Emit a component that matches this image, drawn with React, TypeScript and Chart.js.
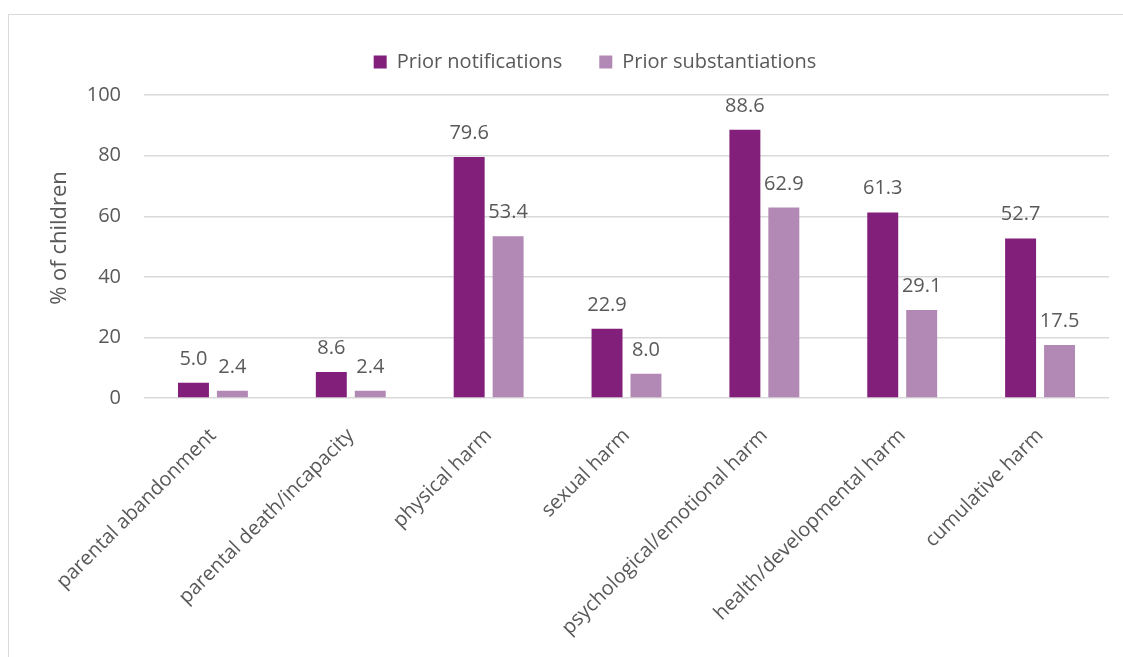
import React, { useEffect, useRef } from 'react';
import { Chart, registerables } from 'chart.js';

Chart.register(...registerables);

const categories = [
  'parental abandonment',
  'parental death/incapacity',
  'physical harm',
  'sexual harm',
  'psychological/emotional harm',
  'health/developmental harm',
  'cumulative harm',
];
const seriesLabels = ['Prior notifications', 'Prior substantiations'];
const priorNotifications = [5.0, 8.6, 79.6, 22.9, 88.6, 61.3, 52.7];
const priorSubstantiations = [2.4, 2.4, 53.4, 8.0, 62.9, 29.1, 17.5];
const yMin = 0;
const yMax = 100;
const yStep = 20;
const yTitle = '   % of children';

const FONT = "'Open Sans', sans-serif";
const TEXT = '#595959';
const GRID = '#d9d9d9';

const dataLabels = {
  id: 'dataLabels',
  afterDatasetsDraw(chart: any) {
    const ctx = chart.ctx;
    ctx.save();
    ctx.font = `20px ${FONT}`;
    ctx.fillStyle = TEXT;
    ctx.textAlign = 'center';
    ctx.textBaseline = 'alphabetic';
    chart.data.datasets.forEach((ds: any, i: number) => {
      const meta = chart.getDatasetMeta(i);
      meta.data.forEach((el: any, j: number) => {
        ctx.fillText(Number(ds.data[j]).toFixed(1), el.x, el.y - 18);
      });
    });
    ctx.restore();
  },
};

export default function App() {
  const ref = useRef<HTMLCanvasElement>(null);
  useEffect(() => {
    if (!ref.current) return;
    const chart = new Chart(ref.current, {
      type: 'bar',
      data: {
        labels: categories,
        datasets: [
          {
            label: seriesLabels[0],
            data: priorNotifications,
            backgroundColor: '#821F7A',
            categoryPercentage: 0.565,
            barPercentage: 0.795,
          },
          {
            label: seriesLabels[1],
            data: priorSubstantiations,
            backgroundColor: '#B289B4',
            categoryPercentage: 0.565,
            barPercentage: 0.795,
          },
        ],
      },
      options: {
        responsive: false,
        animation: false,
        devicePixelRatio: 1,
        layout: { padding: { top: 15, left: 81, right: 14, bottom: 0 } },
        plugins: {
          legend: {
            position: 'top',
            labels: {
              boxWidth: 13,
              boxHeight: 13,
              padding: 37,
              color: TEXT,
              font: { family: FONT, size: 20 },
            },
          },
          title: {
            display: true,
            text: '',
            weight: 500,
            padding: { top: 0, bottom: 12 },
            font: { size: 1 },
          },
          tooltip: { enabled: false },
        },
        scales: {
          x: {
            grid: { display: false },
            border: { display: false },
            ticks: {
              color: TEXT,
              font: { family: FONT, size: 20 },
              minRotation: 45,
              maxRotation: 45,
              padding: 18,
              autoSkip: false,
            },
            afterFit: (scale: any) => {
              scale.height = 259;
            },
          },
          y: {
            min: yMin,
            max: yMax,
            grid: { color: GRID, lineWidth: 1.5, drawTicks: false },
            border: { display: false },
            ticks: {
              stepSize: yStep,
              color: TEXT,
              font: { family: FONT, size: 20 },
              padding: 23,
            },
            title: {
              display: true,
              text: yTitle,
              color: TEXT,
              font: { family: FONT, size: 22 },
              padding: { top: -34, bottom: 0 },
            },
            afterFit: (scale: any) => {
              scale.width = 63;
            },
          },
        },
      },
      plugins: [dataLabels],
    });
    return () => chart.destroy();
  }, []);

  return (
    <div style={{ position: 'fixed', left: 0, top: 0, width: 1123, height: 657, overflow: 'hidden', background: '#fff' }}>
      <div
        style={{
          position: 'absolute',
          left: 8,
          top: 14,
          width: 1300,
          height: 800,
          border: `1.5px solid ${GRID}`,
        }}
      />
      <canvas ref={ref} width={1123} height={657} style={{ position: 'absolute', left: 0, top: 0, width: 1123, height: 657 }} />
    </div>
  );
}
